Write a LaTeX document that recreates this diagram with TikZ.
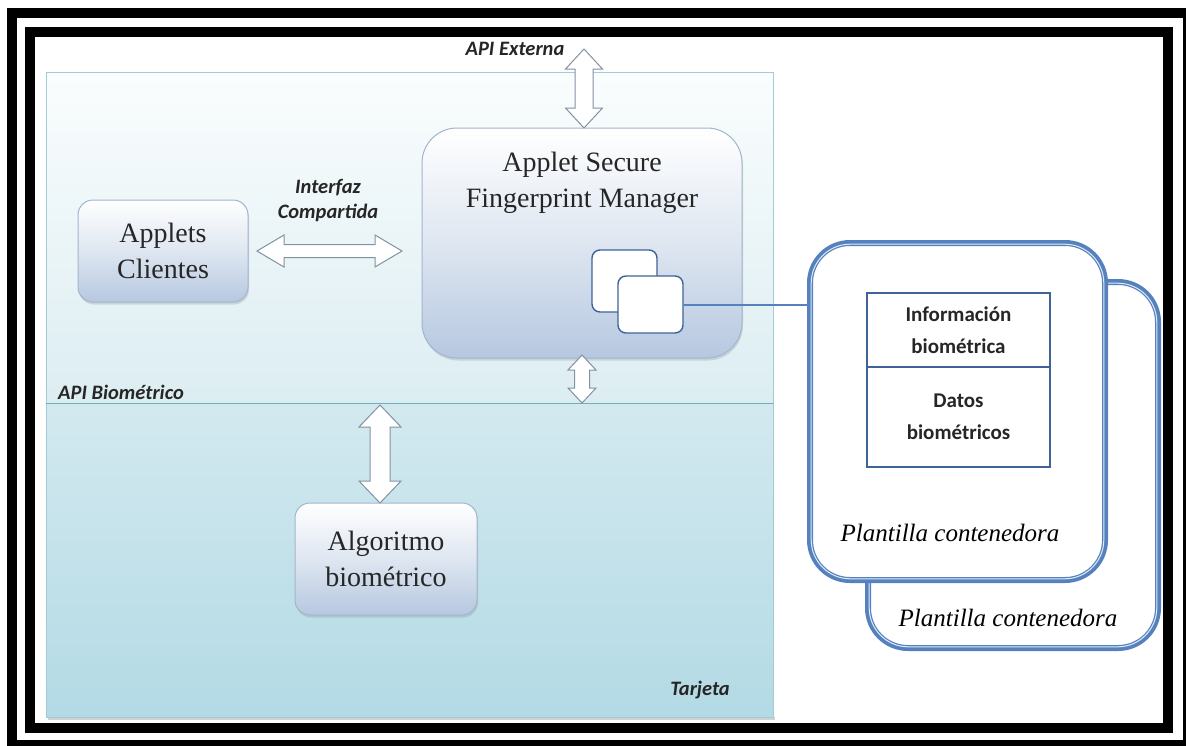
\documentclass[tikz,border=0pt]{standalone}
\usepackage{fontspec}
\newfontfamily\calfont{Carlito}
\newfontfamily\boxfont{Liberation Serif}
\usetikzlibrary{calc,shadows}

\definecolor{boxbot}{HTML}{B6C8E0}
\definecolor{boxedge}{HTML}{A3B5CC}
\definecolor{arrowedge}{HTML}{8292A2}
\definecolor{cardtop}{HTML}{FAFDFD}
\definecolor{cardmid}{HTML}{DCEDF2}
\definecolor{cardlow}{HTML}{D3E9EF}
\definecolor{cardbot}{HTML}{B3DAE5}
\definecolor{cardedge}{HTML}{A3CBD6}
\definecolor{sepline}{HTML}{6FAFC0}
\definecolor{tplblue}{HTML}{5582BE}
\definecolor{tplinner}{HTML}{E2EAF4}
\definecolor{tabedge}{HTML}{3F6398}
\definecolor{txt}{HTML}{262626}

\tikzset{
  panel/.style={draw=boxedge, line width=1pt, inner sep=0pt, outer sep=0pt,
    top color=white, bottom color=boxbot, middle color=white!55!boxbot,
    drop shadow={opacity=0.25, shadow xshift=1pt, shadow yshift=-2.5pt}},
  boxtext/.style={font=\boxfont\fontsize{28}{36}\selectfont, align=center, text=txt, inner sep=0pt},
  tag/.style={font=\calfont\bfseries\itshape\fontsize{20.5}{25}\selectfont, align=center, text=txt, inner sep=0pt},
  cell/.style={draw=tabedge, line width=1.3pt, fill=white, inner sep=0pt, outer sep=0pt,
    minimum width=183pt},
  celltext/.style={font=\calfont\bfseries\fontsize{21}{32}\selectfont, align=center, text=txt, inner sep=0pt},
  script/.style={font=\boxfont\itshape\fontsize{25}{28}\selectfont, text=black, inner sep=0pt},
  minibox/.style={draw=tabedge, line width=1.4pt, fill=white, rounded corners=8pt,
    inner sep=0pt, outer sep=0pt, minimum width=65pt},
  template/.style={draw=tplblue, line width=6pt, fill=white, rounded corners=40pt,
    inner sep=0pt, outer sep=0pt},
  barrow/.style={draw=arrowedge, line width=1pt, fill=white, line join=miter},
  link/.style={draw=tplblue, line width=2pt},
  frame/.style={draw=black, line width=10pt}
}

% block double arrow between two named points:
% #1 end A, #2 end B, #3 shaft half width, #4 head half width, #5 head length
\newcommand\blockarrow[5]{%
  \path[barrow] (#1)
    -- ($(#1)!#5!(#2)!#4!90:(#2)$) -- ($(#1)!#5!(#2)!#3!90:(#2)$)
    -- ($(#2)!#5!(#1)!#3!-90:(#1)$) -- ($(#2)!#5!(#1)!#4!-90:(#1)$)
    -- (#2)
    -- ($(#2)!#5!(#1)!#4!90:(#1)$) -- ($(#2)!#5!(#1)!#3!90:(#1)$)
    -- ($(#1)!#5!(#2)!#3!-90:(#2)$) -- ($(#1)!#5!(#2)!#4!-90:(#2)$)
    -- cycle;}

\begin{document}
\begin{tikzpicture}[x=1pt, y=-1pt]
\useasboundingbox (0,0) rectangle (1186,745);
\fill[white] (0,0) rectangle (1186,745);

% double black frame
\draw[frame] (12,13) rectangle (1188,745);
\draw[frame] (30,32) rectangle (1168,728);

% card area with the biometric API boundary
\fill[black, opacity=0.18] (48,717) rectangle (775,720);
\shade[top color=cardtop, bottom color=cardmid] (46,72) rectangle (773,403);
\shade[top color=cardlow, bottom color=cardbot] (46,403) rectangle (773,717);
\draw[cardedge, line width=1pt] (46,72) rectangle (773,717);
\coordinate (sepL) at (46,403);
\coordinate (sepR) at (773,403);
\draw[sepline, line width=1pt] (sepL) -- (sepR);

% applets
\node[panel, rounded corners=15pt, minimum width=170pt, minimum height=102pt] (clientes) at (163,251) {};
\node[boxtext] (clientestext) at (clientes.center) {Applets\\Clientes};

\node[panel, rounded corners=35pt, minimum width=320pt, minimum height=230pt] (asfm) at (582,243) {};
\node[boxtext] (asfmtext) at (582,183) {Applet Secure\\Fingerprint Manager};

\node[minibox, minimum height=62pt] (rec1) at (624.5,281) {};
\node[minibox, minimum height=57pt] (rec2) at (650.5,304.5) {};

\node[panel, rounded corners=15pt, minimum width=182pt, minimum height=112pt] (algo) at (386,559) {};
\node[boxtext] (algotext) at (algo.center) {Algoritmo\\biométrico};

% containing templates
\node[template, minimum width=290pt, minimum height=366pt] (tpl2) at (1013,465) {};
\draw[tplinner, line width=1pt, rounded corners=39pt]
  ($(tpl2.south west)+(1.2,-1.2)$) rectangle ($(tpl2.north east)+(-1.2,1.2)$);
\node[template, minimum width=295pt, minimum height=337pt] (tpl1) at (957.5,411.5) {};
\draw[tplinner, line width=1pt, rounded corners=39pt]
  ($(tpl1.south west)+(1.2,-1.2)$) rectangle ($(tpl1.north east)+(-1.2,1.2)$);

\node[cell, minimum height=74pt] (info) at (958.5,330) {};
\node[cell, minimum height=100pt] (datos) at (958.5,417) {};
\node[celltext] (infotext) at (info.center) {Información\\biométrica};
\node[celltext] (datostext) at (datos.center) {Datos\\biométricos};

\node[script] (tpl1label) at (950,533) {Plantilla contenedora};
\node[script] (tpl2label) at (1008,618) {Plantilla contenedora};

\draw[link] (rec2.east) -- (rec2.east -| tpl1.west);

% interfaces
\coordinate (extTop) at ($(asfm.north)+(2,-79)$);
\coordinate (extBot) at ($(asfm.north)+(2,0)$);
\blockarrow{extTop}{extBot}{9pt}{18.5pt}{20pt}

\coordinate (ifL) at ($(clientes.east)+(9,0)$);
\coordinate (ifR) at ($(asfm.west |- clientes.east)+(-20,0)$);
\blockarrow{ifL}{ifR}{6.5pt}{16pt}{27pt}

\coordinate (bioTop) at ($(asfm.south)+(0,-3)$);
\coordinate (bioBot) at ($(asfm.south |- sepL)$);
\blockarrow{bioTop}{bioBot}{7.5pt}{14pt}{15pt}

\coordinate (algTop) at ($(algo.north |- sepL)+(-6,2)$);
\coordinate (algBot) at ($(algo.north)+(-6,0)$);
\blockarrow{algTop}{algBot}{10pt}{21pt}{22pt}

% labels
\node[tag] (lblext) at (515,49) {API Externa};
\node[tag] (lblif) at (328,200) {Interfaz\\Compartida};
\node[tag, anchor=west] (lblbio) at (58,392) {API Biométrico};
\node[tag, anchor=east] (lblcard) at (730,690) {Tarjeta};
\end{tikzpicture}
\end{document}
